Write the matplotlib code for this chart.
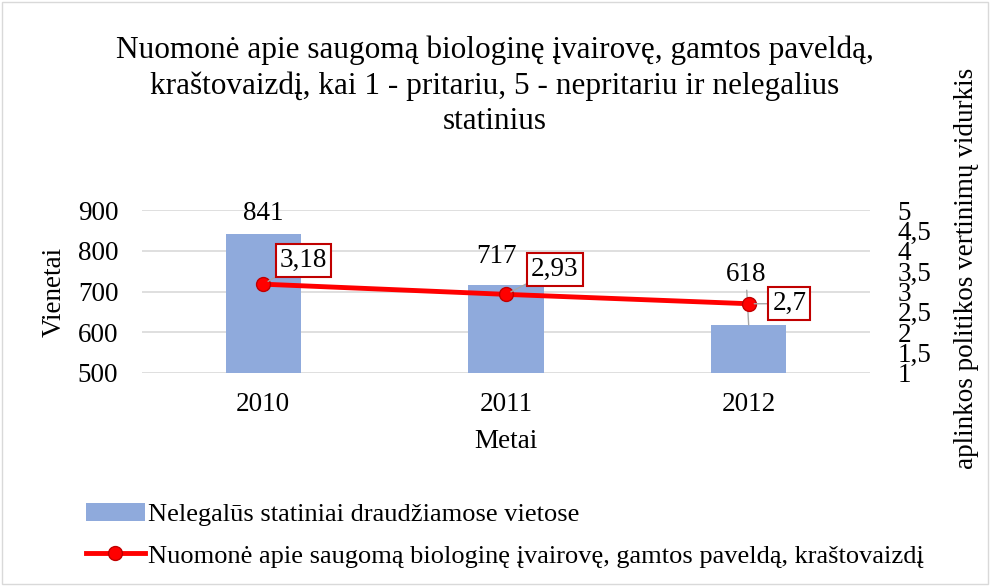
import matplotlib
matplotlib.use("Agg")
import matplotlib.pyplot as plt
from matplotlib.patches import Rectangle
from matplotlib.lines import Line2D
from matplotlib.patches import Patch

plt.rcParams['font.family'] = ['Liberation Serif', 'DejaVu Serif']

years = ["2010", "2011", "2012"]
illegal = [841, 717, 618]
opinion = [3.18, 2.93, 2.7]
opinion_labels = ["3,18", "2,93", "2,7"]
left_ticks = [500, 600, 700, 800, 900]
right_ticks = [1, 1.5, 2, 2.5, 3, 3.5, 4, 4.5, 5]
right_tick_labels = ["1", "1,5", "2", "2,5", "3", "3,5", "4", "4,5", "5"]

title = ("Nuomonė apie saugomą biologinę įvairovę, gamtos paveldą,\n"
         "kraštovaizdį, kai 1 - pritariu, 5 - nepritariu ir nelegalius\n"
         "statinius")
bar_name = "Nelegalūs statiniai draudžiamose vietose"
line_name = "Nuomonė apie saugomą biologinę įvairovę, gamtos paveldą, kraštovaizdį"

bar_color = "#8FAADC"
line_color = "#FF0000"
marker_edge = "#C00000"
fs = 19.5

fig = plt.figure(figsize=(9.9, 5.86), dpi=100)
fig.patches.append(Rectangle((0.002, 0.003), 0.996, 0.994, transform=fig.transFigure,
                             fill=False, edgecolor="#D9D9D9", linewidth=1))

ax = fig.add_axes([0.1434, 0.3635, 0.7354, 0.2781])
x = list(range(len(years)))
ax.bar(x, illegal, width=0.31, color=bar_color, zorder=2)
ax.set_ylim(500, 900)
ax.set_xlim(-0.5, 2.5)
ax.set_yticks(left_ticks)
ax.set_yticklabels([str(t) for t in left_ticks], fontsize=fs)
ax.set_xticks(x)
ax.set_xticklabels(years, fontsize=fs)
ax.tick_params(axis='y', length=0, pad=17)
ax.tick_params(axis='x', length=0, pad=14)
ax.grid(axis='y', color="#D9D9D9", linewidth=1.2, zorder=0)
ax.set_axisbelow(True)
for s in ax.spines.values():
    s.set_visible(False)
ax.set_ylabel("Vienetai", fontsize=fs, labelpad=8)
ax.set_xlabel("Metai", fontsize=fs, labelpad=8)

# bar labels
bar_offsets = [(0, 6), (-7, 11), (-2, 27)]
bar_leader = [False, False, True]
for xi, v, off, lead in zip(x, illegal, bar_offsets, bar_leader):
    kw = {}
    if lead:
        kw["arrowprops"] = dict(arrowstyle="-", color="#A6A6A6", lw=1, shrinkA=0, shrinkB=0)
    ax.annotate(str(v), xy=(xi, v), xytext=off, textcoords="offset points",
                ha="center", va="bottom", fontsize=fs, zorder=5, **kw)

ax2 = ax.twinx()
ax2.plot(x, opinion, color=line_color, linewidth=3.5, marker="o", markersize=10,
         markerfacecolor=line_color, markeredgecolor=marker_edge, zorder=4)
ax2.set_ylim(1, 5)
ax2.set_yticks(right_ticks)
ax2.set_yticklabels(right_tick_labels, fontsize=fs)
ax2.tick_params(axis='y', length=0, pad=20)
for s in ax2.spines.values():
    s.set_visible(False)
ax2.set_ylabel("aplinkos politikos vertinimų vidurkis", fontsize=fs)
ax2.yaxis.set_label_coords(1.116, 0.644)

line_offsets = [(12, 17), (18, 18), (17, 0)]
for xi, v, lab, off in zip(x, opinion, opinion_labels, line_offsets):
    ax2.annotate(lab, xy=(xi, v), xytext=off, textcoords="offset points",
                 ha="left", va="center", fontsize=fs, zorder=6,
                 bbox=dict(boxstyle="square,pad=0.15", fc="white", ec=marker_edge, lw=1.5),
                 arrowprops=dict(arrowstyle="-", color="#A6A6A6", lw=1,
                                 shrinkA=0, shrinkB=4))

fig.text(0.5, 0.94, title, ha="center", va="top", fontsize=22.5, linespacing=1.29)

handles = [Patch(facecolor=bar_color, edgecolor="none"),
           Line2D([0], [0], color=line_color, lw=3.5, marker="o", markersize=10,
                  markerfacecolor=line_color, markeredgecolor=marker_edge)]
fig.legend(handles, [bar_name, line_name], loc="upper left", bbox_to_anchor=(0.076, 0.16),
           frameon=False, fontsize=19, handlelength=2.25, handletextpad=0.1,
           labelspacing=0.68, borderaxespad=0)

fig.savefig("out.png", dpi=100)
